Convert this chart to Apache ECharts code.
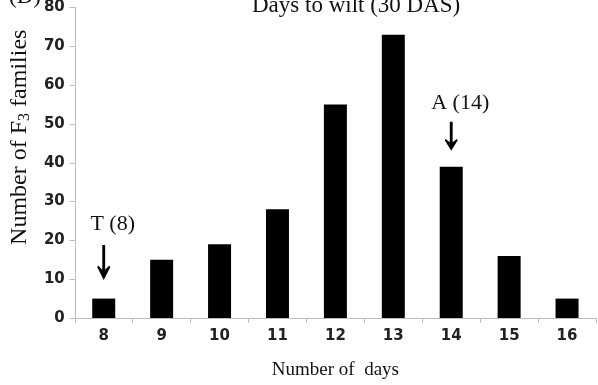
<!DOCTYPE html>
<html>
<head>
<meta charset="utf-8">
<script src="https://cdn.jsdelivr.net/npm/echarts@6/dist/echarts.min.js"></script>
<style>html,body{margin:0;padding:0;background:#fff}#c{width:598px;height:385px}</style>
</head>
<body>
<div id="c"></div>
<script>
const categories = ['8','9','10','11','12','13','14','15','16'];
const families = [5, 15, 19, 28, 55, 73, 39, 16, 5];
const yTicks = [0, 80, 10];
const annotations = [
  { cat: '8', label: 'T (8)', arrowMid: 14.3, arrowLen: 35, textAt: 24.2 },
  { cat: '14', label: 'A (14)', arrowMid: 46.8, arrowLen: 29, textAt: 55.4 }
];

const serif = '"Liberation Serif", "DejaVu Serif", serif';
const arrowPath = 'path://M3.9,0 L6.1,0 L6.1,24 L9.3,20 L10,21.5 L5,34 L0,21.5 L0.7,20 L3.9,24 Z';

const markData = [];
annotations.forEach(a => {
  markData.push({ coord: [a.cat, a.arrowMid], symbol: arrowPath, symbolSize: [13, a.arrowLen], symbolKeepAspect: false,
    itemStyle: { color: '#000' }, label: { show: false } });
  markData.push({ coord: [a.cat, a.textAt], symbol: 'circle', symbolSize: 0,
    label: { show: true, position: 'inside', offset: [9, 0], formatter: a.label, color: '#111', fontFamily: serif, fontSize: 22 } });
});

const tickFont = { fontFamily: '"DejaVu Sans", sans-serif', fontWeight: 'bold', fontSize: 15, color: '#222' };

const chart = echarts.init(document.getElementById('c'), null, { renderer: 'canvas' });
chart.setOption({
  animation: false,
  backgroundColor: '#fff',
  title: {
    text: 'Days to wilt (30 DAS)', left: 247, top: -11,
    textStyle: { fontFamily: serif, fontWeight: 'normal', fontSize: 23, color: '#111' }
  },
  graphic: [{ type: 'text', left: 9, top: -15, style: { text: '(D)', font: '23px ' + serif, fill: '#111' } }],
  grid: { left: 73, right: 2, top: 7, bottom: 67 },
  xAxis: {
    type: 'category', data: categories,
    name: 'Number of  days', nameLocation: 'middle', nameGap: 43,
    nameTextStyle: { fontFamily: serif, fontSize: 19, color: '#111' },
    axisLine: { lineStyle: { color: '#bdbdbd', width: 1 } },
    axisTick: { show: true, length: 5, lineStyle: { color: '#bdbdbd' } },
    axisLabel: Object.assign({ margin: 11 }, tickFont)
  },
  yAxis: {
    type: 'value', min: yTicks[0], max: yTicks[1], interval: yTicks[2],
    name: '{a|Number of F}{s|3}{a| families}', nameLocation: 'middle', nameGap: 40,
    nameTextStyle: { padding: [0, 0, 0, 51], rich: {
      a: { fontFamily: serif, fontSize: 24, color: '#111' },
      s: { fontFamily: serif, fontSize: 16, color: '#111', verticalAlign: 'bottom', padding: [10, 0, 0, 0] }
    } },
    axisLine: { show: true, lineStyle: { color: '#bdbdbd', width: 1 } },
    axisTick: { show: true, length: 5, lineStyle: { color: '#bdbdbd' } },
    splitLine: { show: false },
    axisLabel: Object.assign({ margin: 10 }, tickFont)
  },
  series: [{
    type: 'bar', data: families, barWidth: 23,
    itemStyle: { color: '#000' },
    markPoint: { silent: true, data: markData }
  }]
});
</script>
</body>
</html>
